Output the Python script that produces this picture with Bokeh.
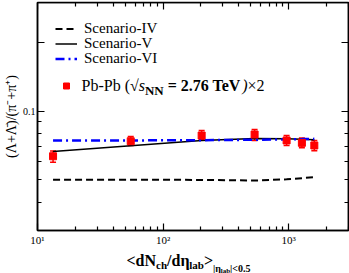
import math
from bokeh.plotting import figure
from bokeh.layouts import column
from bokeh.models import (LogAxis, FixedTicker, Label, Legend, LegendItem, Whisker,
                          ColumnDataSource, Range1d, TeeHead)
from bokeh.embed import file_html
from bokeh.resources import INLINE

# ---------------- data ----------------
mult = [13.3, 55.3, 203, 536, 964, 1276, 1603]          # <dNch/deta>
scen4 = [0.0501, 0.0501, 0.0500, 0.0497, 0.0503, 0.0509, 0.0514]
scen5 = [0.0666, 0.0706, 0.0744, 0.0760, 0.0757, 0.0753, 0.0750]
scen6 = [0.0744, 0.0745, 0.0747, 0.0750, 0.0753, 0.0755, 0.0757]
data_y = [0.0635, 0.0739, 0.0783, 0.0791, 0.0745, 0.0727, 0.0708]
data_lo = [0.0597, 0.0708, 0.0752, 0.0745, 0.0708, 0.0692, 0.0672]
data_hi = [0.0669, 0.0775, 0.0824, 0.0832, 0.0783, 0.0763, 0.0745]

x_major = [10, 100, 1000]
x_minor = [20, 30, 40, 50, 60, 70, 80, 90, 200, 300, 400, 500, 600, 700, 800, 900, 2000, 3000]
x_labels = {10: "10¹", 100: "10²", 1000: "10³"}
y_major = [0.1, 0.2]
y_minor = [0.03, 0.04, 0.05, 0.06, 0.07, 0.08, 0.09, 0.3]
y_labels = {0.1: "0.1", 0.2: ""}
y_title = "(Λ+Λ\u0304)/(π\u207b+π\u207a)"
legend_labels = ["Scenario-IV", "Scenario-V", "Scenario-VI"]

W = 349
H_MAIN, H_TITLE = 248, 25
FL, FT, FR, FB = 37, 2, 348, 230   # frame edges in page pixels
SERIF = "Liberation Serif"

p = figure(width=W, height=H_MAIN, x_axis_type="log", y_axis_type="log",
           x_range=Range1d(10, 3000), y_range=Range1d(0.03, 0.3),
           output_backend="svg", toolbar_location=None, title_location=None,
           min_border_left=FL, min_border_right=W - FR, min_border_top=FT,
           min_border_bottom=H_MAIN - FB)
p.xgrid.visible = False
p.ygrid.visible = False
p.outline_line_color = "black"
p.outline_line_width = 1.5
p.background_fill_color = "white"
p.border_fill_color = "white"

def style_axis(ax, major, minor, labels, show):
    ax.ticker = FixedTicker(ticks=major, minor_ticks=minor)
    ax.major_tick_in = 7
    ax.major_tick_out = 0
    ax.minor_tick_in = 4
    ax.minor_tick_out = 0
    ax.major_tick_line_width = 1.2
    ax.minor_tick_line_width = 1.2
    ax.axis_line_width = 1.5
    ax.axis_line_color = "black"
    ax.major_tick_line_color = "black"
    ax.minor_tick_line_color = "black"
    if show:
        ax.major_label_overrides = labels
        ax.major_label_text_font = SERIF
        ax.major_label_text_font_size = "11px"
        ax.major_label_text_color = "black"
        ax.major_label_standoff = 3
    else:
        ax.major_label_text_font_size = "0px"
        ax.major_label_standoff = 0
        ax.major_label_overrides = {k: "" for k in major}

style_axis(p.xaxis[0], x_major, x_minor, x_labels, True)
style_axis(p.yaxis[0], y_major, y_minor, y_labels, True)
p.yaxis[0].major_label_orientation = "horizontal"
p.yaxis[0].major_label_text_font_size = "10px"
p.yaxis[0].major_label_standoff = 2
p.yaxis[0].axis_label = y_title
p.yaxis[0].axis_label_text_font = SERIF
p.yaxis[0].axis_label_text_font_size = "14px"
p.yaxis[0].axis_label_text_font_style = "normal"
p.yaxis[0].axis_label_text_color = "black"
p.yaxis[0].axis_label_standoff = 1

top = LogAxis(fixed_location=0.3)
style_axis(top, x_major, x_minor, x_labels, False)
p.add_layout(top, "above")
right = LogAxis(fixed_location=3000)
style_axis(right, y_major, y_minor, y_labels, False)
p.add_layout(right, "right")

src = ColumnDataSource(dict(x=mult, s4=scen4, s5=scen5, s6=scen6,
                            y=data_y, lo=data_lo, hi=data_hi))

r4 = p.line("x", "s4", source=src, line_color="black", line_width=2, line_dash="7 4")
r5 = p.line("x", "s5", source=src, line_color="black", line_width=1.5)
r6 = p.line("x", "s6", source=src, line_color="#0000FF", line_width=2.5, line_dash="9 4 2 4")

wh = Whisker(base="x", lower="lo", upper="hi", source=src, line_color="#FF0000", line_width=1.5,
             upper_head=TeeHead(size=6, line_color="#FF0000", line_width=1.5),
             lower_head=TeeHead(size=6, line_color="#FF0000", line_width=1.5))
p.add_layout(wh)
rd = p.scatter("x", "y", source=src, marker="square", size=7, fill_color="#FF0000",
               line_color="#FF0000")

def sx(px):
    return px - FL

def sy(py):
    return FB - py

ROW_H = 17   # rendered height of one legend row
def one_row_legend(label, renderer, center_y):
    lg = Legend(items=[LegendItem(label=label, renderers=[renderer])],
                location=(sx(55), sy(center_y) - ROW_H / 2))
    lg.border_line_alpha = 0
    lg.background_fill_alpha = 0
    lg.padding = 0
    lg.spacing = 0
    lg.margin = 0
    lg.glyph_width = 22
    lg.glyph_height = 15
    lg.label_height = 15
    lg.label_standoff = 7
    lg.label_text_font = SERIF
    lg.label_text_font_size = "15px"
    lg.label_text_color = "black"
    p.add_layout(lg)

one_row_legend(legend_labels[0], r4, 28)
one_row_legend(legend_labels[1], r5, 43)
one_row_legend(legend_labels[2], r6, 58)
one_row_legend(" ", rd, 84)

REG = {"P": .556, "b": .5, "-": .333, " ": .25, "(": .333, ")": .333, "×": .564, "2": .5,
       "√": .549, "s": .389}
BOLD = {"N": .722, "=": .570, " ": .25, "2": .5, ".": .25, "7": .5, "6": .5, "T": .667,
        "e": .444, "V": .722, "<": .570, ">": .570, "d": .556, "/": .278, "η": .55,
        "c": .444, "h": .556, "l": .278, "a": .5, "b": .556, "|": .22, "0": .5, "5": .5}

def width(text, size, bold):
    tab = BOLD if bold else REG
    return sum(tab.get(ch, .5) for ch in text) * size

def compose(fig, pieces, x0, fx, fy):
    x = x0
    for text, size, bold, italic, base in pieces:
        if bold and italic:
            style = "bold italic"
        elif bold:
            style = "bold"
        elif italic:
            style = "italic"
        else:
            style = "normal"
        lead = len(text) - len(text.lstrip(" "))
        x += width(" " * lead, size, bold)
        body = text.strip(" ")
        fig.add_layout(Label(x=fx(x), y=fy(base), x_units="screen", y_units="screen",
                             text=body, text_font=SERIF, text_font_size=f"{size}px",
                             text_font_style=style, text_color="black",
                             text_baseline="alphabetic", text_align="left"))
        x += width(body, size, bold)

# legend entry for data
compose(p, [("Pb-Pb (", 16, False, False, 85), ("√", 16, False, False, 85),
            ("s", 16, False, True, 85), ("NN", 13, True, False, 90),
            (" = 2.76 TeV", 16, True, False, 85), (")", 16, False, True, 85),
            ("×2", 16, False, False, 85)], 81, sx, sy)

# x-axis title in a strip below the plot (its frame is aligned with the main frame)
t = figure(width=W, height=H_TITLE, x_range=Range1d(0, 1), y_range=Range1d(0, 1),
           output_backend="svg", toolbar_location=None, title_location=None,
           min_border=0, min_border_left=0, min_border_right=0,
           min_border_top=0, min_border_bottom=0)
t.axis.visible = False
t.grid.visible = False
t.outline_line_color = None
t.background_fill_color = "white"
t.border_fill_color = "white"

def tx(px):
    return px - FL

def ty(py):
    return (H_MAIN + H_TITLE) - py

compose(t, [("<dN", 16, True, False, 260), ("ch", 11, True, False, 264),
            ("/dη", 16, True, False, 260), ("lab", 11, True, False, 264),
            (">", 16, True, False, 260), ("|η", 10, True, False, 268),
            ("lab", 7, True, False, 270), ("|<0.5", 10, True, False, 268)], 126, tx, ty)

layout = column(p, t, spacing=0)
open("out.html", "w").write(file_html(layout, INLINE))
